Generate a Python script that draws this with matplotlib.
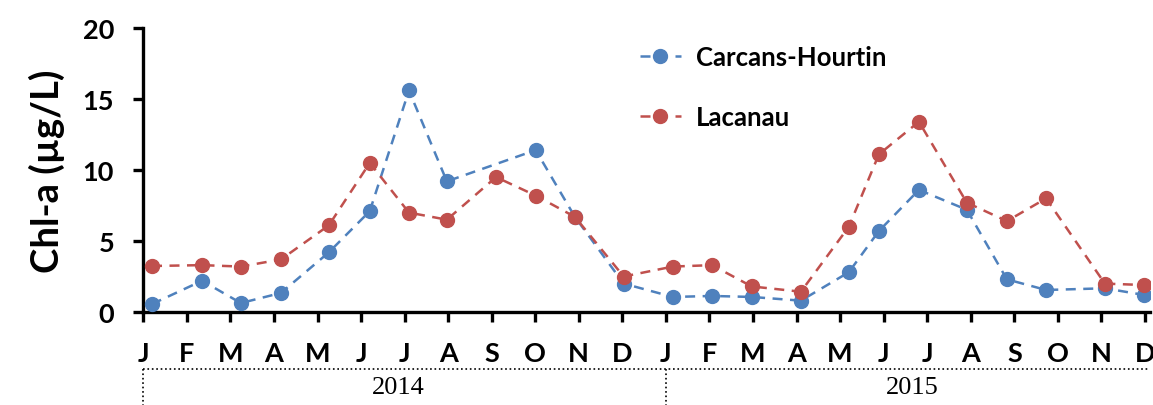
import numpy as np
import matplotlib
matplotlib.use("Agg")
import matplotlib.pyplot as plt
import matplotlib.transforms as mtransforms

# sampling dates, in months since January 2014 (0 = J 2014)
mois_carcans = [0.20, 1.35, 2.24, 3.16, 4.26, 5.20, 6.10, 6.97, 9.01, 9.91, 11.03,
                12.16, 13.06, 13.97, 15.10, 16.20, 16.89, 17.81, 18.91, 19.83, 20.73, 22.08, 22.98]
chla_carcans = [0.56, 2.2, 0.63, 1.34, 4.2, 7.1, 15.6, 9.2, 11.4, 6.7, 2.0,
                1.06, 1.13, 1.06, 0.8, 2.8, 5.7, 8.6, 7.2, 2.3, 1.55, 1.67, 1.2]

mois_lacanau = [0.20, 1.35, 2.24, 3.16, 4.26, 5.20, 6.10, 6.97, 8.10, 9.01, 9.91, 11.03,
                12.16, 13.06, 13.97, 15.10, 16.20, 16.89, 17.81, 18.91, 19.83, 20.73, 22.08, 22.98]
chla_lacanau = [3.24, 3.3, 3.2, 3.7, 6.1, 10.5, 7.0, 6.5, 9.5, 8.2, 6.7, 2.5,
                3.2, 3.3, 1.8, 1.43, 6.0, 11.1, 13.4, 7.7, 6.4, 8.0, 2.0, 1.9]

mois_labels = ['J', 'F', 'M', 'A', 'M', 'J', 'J', 'A', 'S', 'O', 'N', 'D'] * 2
annees = ['2014', '2015']

plt.rcParams['font.family'] = ['Lato', 'DejaVu Sans']
plt.rcParams['font.weight'] = 'bold'

fig = plt.figure(figsize=(11.53, 4.06), dpi=100)
ax = fig.add_axes([143.3 / 1153, 93 / 406, (1150 - 143.3) / 1153, 284 / 406])

bleu = '#4F81BD'
rouge = '#C0504D'
ax.plot(mois_carcans, chla_carcans, '--', color=bleu, lw=1.8, dashes=(4, 3),
        marker='o', ms=10, label='Carcans-Hourtin', zorder=3)
ax.plot(mois_lacanau, chla_lacanau, '--', color=rouge, lw=1.8, dashes=(4, 3),
        marker='o', ms=10, label='Lacanau', zorder=3)

ax.set_xlim(0, (1150 - 143.3) / 43.55)
ax.set_ylim(0, 20)
ax.set_yticks([0, 5, 10, 15, 20])
ax.set_xticks(range(len(mois_labels)))
ax.set_xticklabels(mois_labels)

for s in ['top', 'right']:
    ax.spines[s].set_visible(False)
for s in ['left', 'bottom']:
    ax.spines[s].set_linewidth(2.4)
ax.tick_params(axis='both', direction='out', length=7, width=2.4, labelsize=19.5)
ax.tick_params(axis='x', pad=14)
ax.tick_params(axis='y', pad=14)

ax.set_ylabel('Chl-a (µg/L)', fontsize=27.5, fontweight='bold', labelpad=13)

leg = ax.legend(loc='upper left', bbox_to_anchor=(0.47, 1.02), frameon=False,
                fontsize=18.5, labelspacing=1.4, handlelength=1.6, handletextpad=0.6)

# year bracket below the month labels
trans = mtransforms.blended_transform_factory(ax.transData, ax.transAxes)
ax.plot([0, ax.get_xlim()[1]], [-0.2, -0.2], ':', color='black', lw=1.2,
        transform=trans, clip_on=False)
for xv in [0, 12]:
    ax.plot([xv, xv], [-0.2, -0.33], ':', color='black', lw=1.2,
            transform=trans, clip_on=False)
ax.text(5.85, -0.265, annees[0], transform=trans, ha='center', va='center',
        fontsize=19, family='Liberation Serif', fontweight='normal')
ax.text(17.65, -0.265, annees[1], transform=trans, ha='center', va='center',
        fontsize=19, family='Liberation Serif', fontweight='normal')

fig.savefig('out.png', dpi=100)
